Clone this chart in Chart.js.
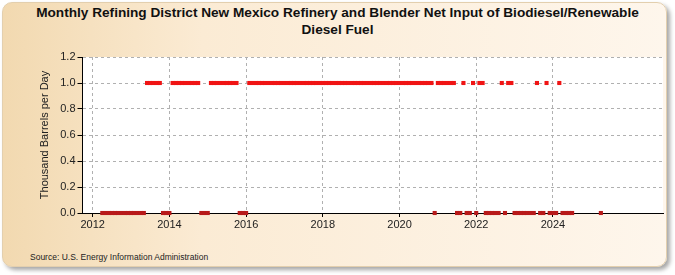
<!DOCTYPE html>
<html>
<head>
    <title>New Mexico Refinery and Blender Net Input of Biodiesel/Renewable Diesel Fuel</title>
    <meta charset="UTF-8">
    <script src="https://cdn.jsdelivr.net/npm/chart.js@4.4.1/dist/chart.umd.min.js"></script>
    <style>
        body { margin: 0; width: 675px; height: 275px; overflow: hidden; background: #fff; font-family: Arial, "Liberation Sans", sans-serif; }
        .panel { position: absolute; left: 2px; top: 2px; width: 663px; height: 263px; border-radius: 10px;
                 border: 1px solid #e3cfae;
                 background: linear-gradient(to right, #f2d9b0 0%, #fbebd4 30%, #fef6ec 100%);
                 box-shadow: 3px 3px 4px rgba(0,0,0,0.35); }
        .title { position: absolute; left: 0; top: 4px; width: 675px; text-align: center;
                 font-weight: bold; font-size: 12px; line-height: 17px; color: #111; white-space: nowrap; }
        .source { position: absolute; left: 30px; top: 252px; font-size: 8.5px; color: #222; }
        #chart-box { position: absolute; left: 0; top: 0; width: 675px; height: 275px; }
    </style>
</head>
<body>
    <div class="panel"></div>
    <div class="title"><span id="t1">Monthly Refining District New Mexico Refinery and Blender Net Input of Biodiesel/Renewable</span><br>Diesel Fuel</div>
    <div class="source">Source: U.S. Energy Information Administration</div>
    <div id="chart-box"><canvas id="chart" width="675" height="275"></canvas></div>

    <script>
        // Monthly values (thousand barrels per day), Jan..Dec, null = no data
        const firstYear = 2012;
        const v2012 = [null, null, null, 0, 0, 0, 0, 0, 0, 0, 0, 0];
        const v2013 = [0, 0, 0, 0, 0, 1, 1, 1, 1, 1, 0, 0];
        const v2014 = [0, 1, 1, 1, 1, 1, 1, 1, 1, 1, 0, 0];
        const v2015 = [0, 1, 1, 1, 1, 1, 1, 1, 1, 1, 0, 0];
        const v2016 = [0, 1, 1, 1, 1, 1, 1, 1, 1, 1, 1, 1];
        const v2017 = [1, 1, 1, 1, 1, 1, 1, 1, 1, 1, 1, 1];
        const v2018 = [1, 1, 1, 1, 1, 1, 1, 1, 1, 1, 1, 1];
        const v2019 = [1, 1, 1, 1, 1, 1, 1, 1, 1, 1, 1, 1];
        const v2020 = [1, 1, 1, 1, 1, 1, 1, 1, 1, 1, 1, 0];
        const v2021 = [1, 1, 1, 1, 1, 1, 0, 0, 1, 0, 0, 1];
        const v2022 = [0, 1, 1, 0, 0, 0, 0, 0, 1, 0, 1, 1];
        const v2023 = [0, 0, 0, 0, 0, 0, 0, 1, 0, 0, 1, 0];
        const v2024 = [0, 0, 1, 0, 0, 0, 0, null, null, null, null, null];
        const v2025 = [null, null, null, 0];
        const yearValues = [v2012, v2013, v2014, v2015, v2016, v2017, v2018, v2019,
                            v2020, v2021, v2022, v2023, v2024, v2025];

        const xTicks = [2012, 2014, 2016, 2018, 2020, 2022, 2024];
        const yTicks = [0, 0.2, 0.4, 0.6, 0.8, 1.0, 1.2];

        // fit the long title line to the reference width (~603px)
        const t1 = document.getElementById('t1');
        const w = t1.getBoundingClientRect().width;
        document.querySelector('.title').style.fontSize = (12 * 603 / w).toFixed(2) + 'px';

        // flatten into scatter points at month positions
        const points = [];
        yearValues.forEach((vals, i) => {
            vals.forEach((v, m) => {
                if (v !== null) points.push({ x: firstYear + i + m / 12, y: v });
            });
        });

        // white plot area
        const plotBg = {
            id: 'plotBg',
            beforeDraw(chart) {
                const a = chart.chartArea, c = chart.ctx;
                c.save();
                c.fillStyle = '#ffffff';
                c.fillRect(a.left, a.top, a.right - a.left, a.bottom - a.top);
                c.restore();
            }
        };

        const ctx = document.getElementById('chart').getContext('2d');
        new Chart(ctx, {
            type: 'scatter',
            data: {
                datasets: [{
                    data: points,
                    showLine: false,
                    pointStyle: 'rect',
                    pointRadius: 2.9,
                    pointBorderWidth: 0,
                    pointBackgroundColor: c => (c.raw && c.raw.y > 0 ? '#f01414' : '#b81a1a'),
                    clip: false
                }]
            },
            options: {
                responsive: false,
                animation: false,
                layout: { padding: { top: 57, right: 12, bottom: 0, left: 38 } },
                plugins: { legend: { display: false }, tooltip: { enabled: false } },
                scales: {
                    x: {
                        type: 'linear',
                        min: 2011.734,
                        max: 2026.87,
                        afterBuildTicks: s => { s.ticks = xTicks.map(v => ({ value: v })); },
                        afterFit: s => { s.height = 62; },
                        ticks: { callback: v => String(v), color: '#222', font: { size: 11 }, padding: 1, maxRotation: 0, autoSkip: false },
                        grid: { color: '#b0b0b0', tickColor: '#000', tickLength: 4 },
                        border: { color: '#000', width: 1, dash: [3, 3] }
                    },
                    y: {
                        min: 0,
                        max: 1.2,
                        afterBuildTicks: s => { s.ticks = yTicks.map(v => ({ value: v })); },
                        afterFit: s => { s.width = 44.5; },
                        ticks: { callback: v => v.toFixed(1), color: '#222', font: { size: 11 }, padding: 2 },
                        grid: { color: '#b0b0b0', tickColor: '#000', tickLength: 5 },
                        border: { color: '#000', width: 1, dash: [3, 3] },
                        title: { display: true, text: 'Thousand Barrels per Day', color: '#222', font: { size: 11 }, padding: 0 }
                    }
                }
            },
            plugins: [plotBg]
        });
    </script>
</body>
</html>
